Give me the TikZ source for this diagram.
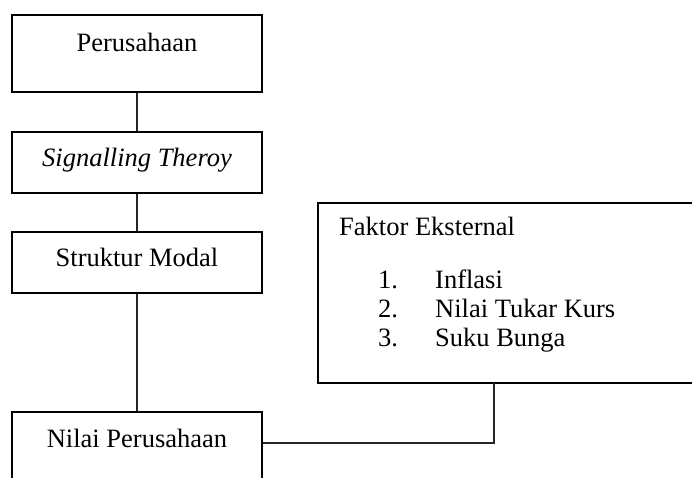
\documentclass[tikz,border=0pt]{standalone}
\usepackage{fontspec}
\setmainfont{Liberation Serif}
\begin{document}
\begin{tikzpicture}[x=1pt,y=-1pt,
  box/.style={draw=black,line width=2.2pt,rectangle,inner sep=0pt,fill=none},
  conn/.style={draw=black!85,line width=1.1pt},
  lbl/.style={anchor=base,inner sep=0pt,font=\fontsize{26.5}{29}\selectfont}]
\path[use as bounding box] (0,0) rectangle (692,477);
\clip (0,0) rectangle (692,477);
\node[box,minimum width=250pt,minimum height=77pt] (b1) at (137,53.5) {};
\node[box,minimum width=250pt,minimum height=61pt] (b2) at (137,162.5) {};
\node[box,minimum width=250pt,minimum height=61pt] (b3) at (137,262.5) {};
\node[box,minimum width=250pt,minimum height=78pt] (b4) at (137,451) {};
\node[box,minimum width=392pt,minimum height=180pt] (fak) at (514,293) {};
\node[lbl] (t1) at (137,51) {Perusahaan};
\node[lbl] (t2) at (137,166) {\itshape Signalling Theroy};
\node[lbl] (t3) at (137,266) {Struktur Modal};
\node[lbl] (t4) at (137,447) {Nilai Perusahaan};
\node[lbl,anchor=base west] (f0) at (339,235) {Faktor Eksternal};
\node[lbl,anchor=base west] (n1) at (378,288) {1.};
\node[lbl,anchor=base west] (n2) at (378,317) {2.};
\node[lbl,anchor=base west] (n3) at (378,346) {3.};
\node[lbl,anchor=base west] (i1) at (435,288) {Inflasi};
\node[lbl,anchor=base west] (i2) at (435,317) {Nilai Tukar Kurs};
\node[lbl,anchor=base west] (i3) at (435,346) {Suku Bunga};
\draw[conn] (b1.south) -- (b2.north);
\draw[conn] (b2.south) -- (b3.north);
\draw[conn] (b3.south) -- (b4.north);
\coordinate (kx) at (494,383);
\draw[conn] (kx) |- ([yshift=8pt]b4.east);
\end{tikzpicture}
\end{document}
